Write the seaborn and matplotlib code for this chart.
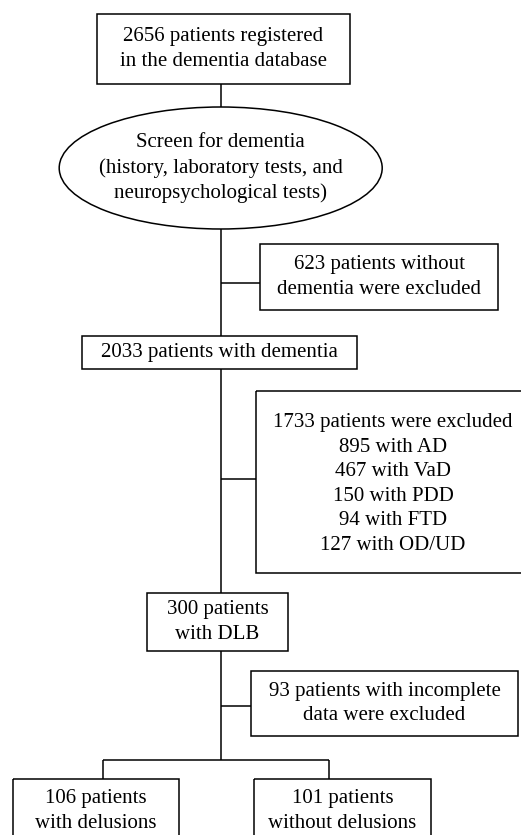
import numpy as np
import pandas as pd
import seaborn as sns
import matplotlib.pyplot as plt
from matplotlib.patches import Rectangle, Ellipse

sns.set_theme(style="white")
plt.rcParams["font.family"] = ["Liberation Serif", "DejaVu Serif"]
plt.rcParams["text.color"] = "black"

# flow counts
registered = 2656
no_dementia = 623
with_dementia = 2033
excluded_total = 1733
excluded_groups = ["AD", "VaD", "PDD", "FTD", "OD/UD"]
excluded_counts = [895, 467, 150, 94, 127]
dlb = 300
incomplete = 93
delusion_groups = ["with delusions", "without delusions"]
delusion_counts = [106, 101]

FS = 15.0
LS = 1.4
LW = 1.1
CX = 220.7

fig = plt.figure(figsize=(5.21, 8.35), dpi=100)
ax = fig.add_axes([0, 0, 1, 1])
ax.set_xlim(0, 521)
ax.set_ylim(835, 0)
ax.axis("off")


def box(x0, x1, y0, y1, text, tx=None, ty=None):
    ax.add_patch(Rectangle((x0, y0), x1 - x0, y1 - y0, fill=False,
                           edgecolor="black", lw=LW))
    tx = (x0 + x1) / 2 if tx is None else tx
    ty = (y0 + y1) / 2 if ty is None else ty
    ax.text(tx, ty, text, ha="center", va="center", fontsize=FS,
            linespacing=LS, color="black")


def line(xs, ys):
    ax.plot(xs, ys, color="black", lw=LW, solid_capstyle="butt")


# main spine
line([CX, CX], [84, 107])
line([CX, CX], [229, 336])
line([CX, CX], [369, 593])
line([CX, CX], [651, 760])

box(97, 350, 14, 84, f"{registered} patients registered\nin the dementia database")

ax.add_patch(Ellipse((CX, 168), 323, 122, fill=False, edgecolor="black", lw=LW))
ax.text(CX, 168, "Screen for dementia\n(history, laboratory tests, and\nneuropsychological tests)",
        ha="center", va="center", fontsize=FS, linespacing=LS, color="black")

line([CX, 260], [282.7, 282.7])
box(260, 498, 244, 310, f"{no_dementia} patients without\ndementia were excluded")

box(82, 357, 336, 369, f"{with_dementia} patients with dementia")

excl_lines = [f"{excluded_total} patients were excluded"] + \
    [f"{n} with {g}" for n, g in zip(excluded_counts, excluded_groups)]
line([CX, 256], [479, 479])
box(256, 530, 391, 573, "\n".join(excl_lines), ty=484)

box(147, 288, 593, 651, f"{dlb} patients\nwith DLB")

line([CX, 251], [706, 706])
box(251, 518, 671, 736, f"{incomplete} patients with incomplete\ndata were excluded")

# split
line([103, 329], [760, 760])
line([103, 103], [760, 779])
line([329, 329], [760, 779])
box(13, 179, 779, 850, f"{delusion_counts[0]} patients\n{delusion_groups[0]}", ty=811)
box(254, 431, 779, 850, f"{delusion_counts[1]} patients\n{delusion_groups[1]}", ty=811)

fig.savefig("out.png", dpi=100)
